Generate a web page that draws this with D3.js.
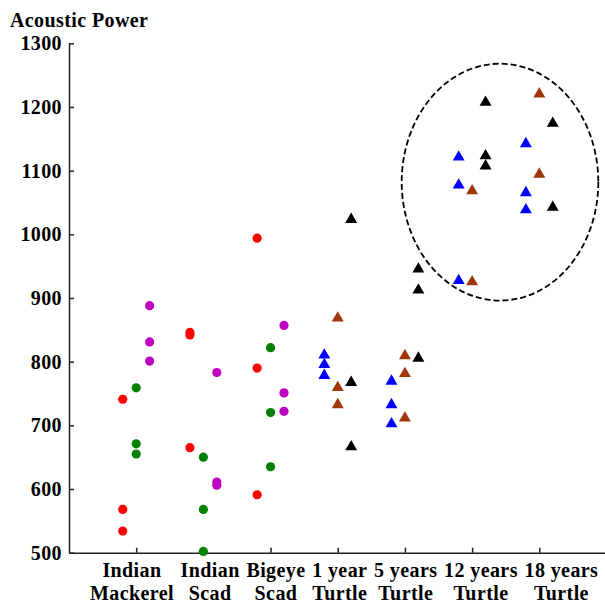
<!DOCTYPE html>
<html>
<head>
<meta charset="utf-8">
<script src="https://cdn.jsdelivr.net/npm/d3@7"></script>
<style>
  body { margin: 0; background: #fff; }
  text { font-family: "Liberation Serif", "Times New Roman", serif; font-weight: bold; fill: #000; }
</style>
</head>
<body>
<div class="canvas"></div>
<script>
const dims = {width: 605, height: 603};

// categories (two-line labels)
const topLabels = ["Indian", "Indian", "Bigeye", "1 year", "5 years", "12 years", "18 years"];
const bottomLabels = ["Mackerel", "Scad", "Scad", "Turtle", "Turtle", "Turtle", "Turtle"];
const fishCount = 3; // first three categories are fish (circles), rest turtles (triangles)

// values per category, left / middle / right series inside each group
const leftValues = [[741, 568, 534], [846, 842, 665], [994, 790, 591], [813, 798, 781], [772, 735, 705], [1124, 1080, 930], [1145, 1068, 1041]];
const middleValues = [[759, 671, 655], [650, 568, 502], [822, 720, 635], [871, 762, 735], [812, 784, 714], [1071, 928], [1223, 1097]];
const rightValues = [[888, 831, 801], [783, 611, 606], [857, 751, 722], [1026, 770, 669], [948, 915, 808], [1210, 1126, 1110], [1177, 1045]];

const fishColors = ["#ff0000", "#008000", "#c000c0"];
const turtleColors = ["#0000ff", "#a0360a", "#000000"];

const yTicks = [500, 600, 700, 800, 900, 1000, 1100, 1200, 1300];

// dashed ellipse round the older turtles (in data units)
const ring = {cat: 6.415, value: 1082, catRadius: 1.463, valueRadius: 186};

const svg = d3.select(".canvas")
  .append("svg")
  .attr("width", dims.width)
  .attr("height", dims.height);

const x = d3.scaleLinear().domain([0, 8]).range([69, 606.5]);
const y = d3.scaleLinear().domain([500, 1300]).range([552.7, 43.3]);

// axes
const xAxis = d3.axisBottom(x).tickValues(d3.range(1, 8)).tickSize(-5).tickSizeOuter(0).tickFormat("");
const yAxis = d3.axisLeft(y).tickValues(yTicks).tickSize(-5).tickSizeOuter(0).tickPadding(7).tickFormat(d3.format("d"));

const xG = svg.append("g").attr("transform", `translate(0, ${y(500)})`).call(xAxis);
const yG = svg.append("g").attr("transform", `translate(${x(0)}, 0)`).call(yAxis);

[xG, yG].forEach(g => {
  g.selectAll("path, line").attr("stroke", "#222").attr("stroke-width", 1.5);
});
yG.selectAll("text")
  .attr("font-size", 20)
  .attr("font-family", "Liberation Serif")
  .attr("font-weight", "bold")
  .attr("letter-spacing", 0.4)
  .attr("fill", "#000");

svg.append("text")
  .attr("x", 10)
  .attr("y", 26.5)
  .attr("font-size", 20)
  .attr("letter-spacing", 0.4)
  .text("Acoustic Power");

// category labels laid out word after word, like a line of text
const labelG = svg.append("g").attr("letter-spacing", 0.4);
let cursor = 90;
const gap = 6.7;
topLabels.forEach((t, i) => {
  const top = labelG.append("text").attr("y", 576.5).attr("font-size", 20).attr("text-anchor", "middle").text(t);
  const bot = labelG.append("text").attr("y", 599.5).attr("font-size", 20).attr("text-anchor", "middle").text(bottomLabels[i]);
  const w = Math.max(top.node().getComputedTextLength(), bot.node().getComputedTextLength());
  const cx = cursor + w / 2;
  top.attr("x", cx);
  bot.attr("x", cx);
  cursor += w + gap;
});

// points
const offsets = [-0.2, 0, 0.2];
const series = [leftValues, middleValues, rightValues];
const points = [];
series.forEach((s, si) => {
  s.forEach((vals, ci) => {
    vals.forEach(v => points.push({cat: ci + 1, series: si, value: v, fish: ci < fishCount}));
  });
});

const tri = d3.symbol().type(d3.symbolTriangle).size(62);

svg.append("g").selectAll("circle")
  .data(points.filter(d => d.fish))
  .enter()
  .append("circle")
  .attr("cx", d => x(d.cat + offsets[d.series]))
  .attr("cy", d => y(d.value))
  .attr("r", 4.6)
  .attr("fill", d => fishColors[d.series]);

// triangles: shift so the middle of the glyph (not its centroid) sits on the value
svg.append("g").selectAll("path")
  .data(points.filter(d => !d.fish))
  .enter()
  .append("path")
  .attr("d", tri)
  .attr("transform", d => `translate(${x(d.cat + offsets[d.series])}, ${y(d.value) + 1.7})`)
  .attr("fill", d => turtleColors[d.series]);

svg.append("ellipse")
  .attr("cx", x(ring.cat))
  .attr("cy", y(ring.value))
  .attr("rx", x(ring.catRadius) - x(0))
  .attr("ry", y(500) - y(500 + ring.valueRadius))
  .attr("fill", "none")
  .attr("stroke", "#000")
  .attr("stroke-width", 1.8)
  .attr("stroke-dasharray", "6,3");
</script>
</body>
</html>
